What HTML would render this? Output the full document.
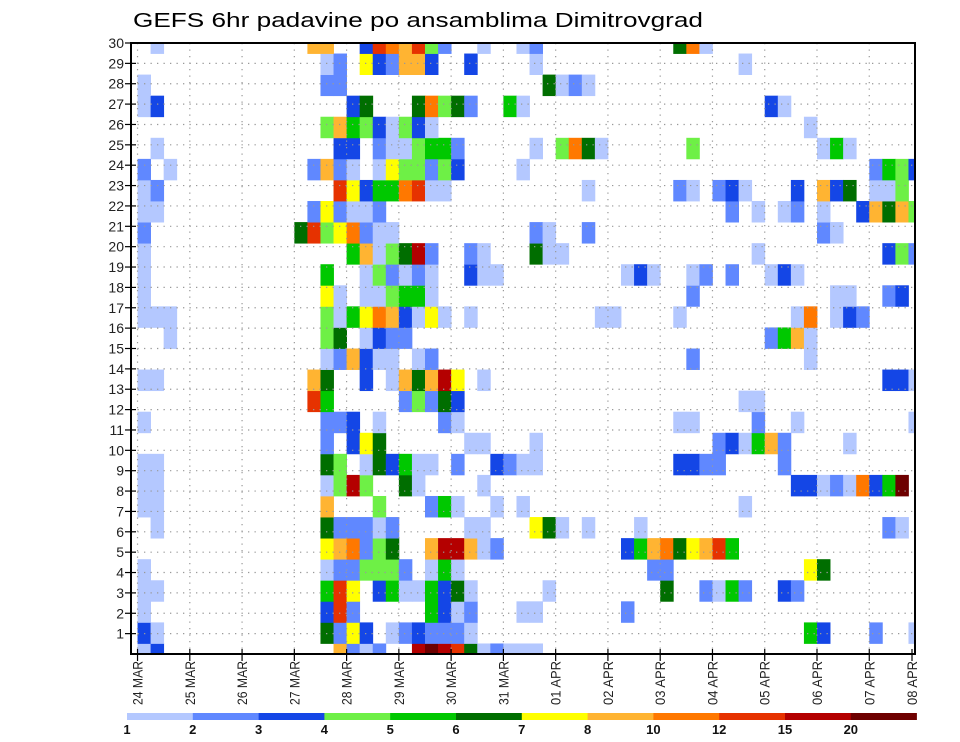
<!DOCTYPE html>
<html><head><meta charset="utf-8">
<style>
html,body{margin:0;padding:0;background:#fff;}
svg{display:block;font-family:"Liberation Sans",sans-serif;}
</style></head>
<body>
<svg id="chart" width="960" height="742" viewBox="0 0 960 742" xmlns="http://www.w3.org/2000/svg">
<rect x="0" y="0" width="960" height="742" fill="#fff"/>
<text x="133" y="27" font-size="20" textLength="570" lengthAdjust="spacingAndGlyphs" fill="#000">GEFS 6hr padavine po ansamblima Dimitrovgrad</text>
<g id="cells"></g>
<g id="grid"></g>
<g id="yaxis"></g>
<g id="xaxis"></g>
<rect x="131" y="43" width="784" height="611" fill="none" stroke="#000" stroke-width="2"/>
<g id="legend"></g>
</svg>
<script>
// ---- data ----
const dayLabels = ["24 MAR","25 MAR","26 MAR","27 MAR","28 MAR","29 MAR","30 MAR","31 MAR","01 APR","02 APR","03 APR","04 APR","05 APR","06 APR","07 APR","08 APR"];
const memberTicks = [1,2,3,4,5,6,7,8,9,10,11,12,13,14,15,16,17,18,19,20,21,22,23,24,25,26,27,28,29,30];
const levels = [1,2,3,4,5,6,7,8,10,12,15,20];
const legendLabels = ["1","2","3","4","5","6","7","8","10","12","15","20"];
const colors = ["#b4c8ff","#6088ff","#1446e6","#6ef046","#00c800","#006e00","#ffff00","#ffb432","#ff7800","#e63200","#b40000","#6e0000"];
// member rows: "column:levelCode" (code 1..c = colour class)
const m30 = "2:1 14:8 15:8 18:3 19:a 20:9 21:8 22:a 23:4 24:2 27:1 30:1 31:2 42:6 43:9 44:1";
const m29 = "15:1 16:2 18:7 19:3 20:2 21:8 22:8 23:3 26:3 31:1 47:1";
const m28 = "1:1 15:2 16:2 32:6 33:1 34:2 35:1";
const m27 = "1:1 2:3 17:3 18:6 22:6 23:9 24:4 25:6 26:2 29:5 30:1 49:3 50:1";
const m26 = "15:4 16:8 17:5 18:4 19:3 20:1 21:4 22:3 23:1 52:1";
const m25 = "2:1 16:3 17:3 19:2 20:1 21:1 22:4 23:5 24:5 25:2 31:1 33:4 34:9 35:6 36:1 43:4 53:1 54:5 55:1";
const m24 = "1:2 3:1 14:2 15:8 16:2 17:1 19:1 20:7 21:4 22:4 23:2 24:4 25:3 30:1 57:2 58:5 59:4 60:3";
const m23 = "1:1 2:2 16:a 17:7 18:3 19:5 20:5 21:9 22:a 23:1 24:1 35:1 42:2 43:1 45:2 46:3 47:1 51:3 53:8 54:3 55:6 57:1 58:1 59:4";
const m22 = "1:1 2:1 14:2 15:7 16:2 17:1 18:1 19:2 46:2 48:1 50:1 51:2 53:1 56:3 57:8 58:6 59:8 60:4";
const m21 = "1:2 13:6 14:a 15:4 16:7 17:9 18:2 19:1 20:1 31:2 32:1 35:2 53:2 54:1";
const m20 = "1:1 17:5 18:8 19:1 20:4 21:6 22:b 23:2 26:2 27:1 31:6 32:1 33:1 48:1 58:3 59:4 60:2";
const m19 = "1:1 15:5 18:1 19:4 20:2 21:1 22:2 23:1 26:3 27:1 28:1 38:1 39:3 40:1 43:1 44:2 46:2 49:1 50:3 51:1";
const m18 = "1:1 15:7 16:1 18:1 19:1 20:4 21:5 22:5 23:1 43:2 54:1 55:1 58:2 59:3";
const m17 = "1:1 2:1 3:1 15:4 16:1 17:5 18:7 19:9 20:8 21:3 22:1 23:7 24:1 26:1 36:1 37:1 42:1 51:1 52:9 54:1 55:3 56:2";
const m16 = "3:1 15:4 16:6 18:1 19:3 20:2 21:2 49:2 50:5 51:8 52:1";
const m15 = "15:1 16:2 17:8 18:3 19:1 20:1 22:1 23:2 43:2 52:1";
const m14 = "1:1 2:1 14:8 15:6 18:3 20:1 21:8 22:6 23:8 24:b 25:7 27:1 58:3 59:3 60:1";
const m13 = "14:a 15:5 21:2 22:4 23:2 24:6 25:3 47:1 48:1";
const m12 = "1:1 15:2 16:2 17:3 19:1 24:2 25:1 42:1 43:1 48:2 51:1 60:1";
const m11 = "15:2 17:3 18:7 19:6 26:1 27:1 31:1 45:2 46:3 47:1 48:5 49:8 50:2 55:1";
const m10 = "1:1 2:1 15:6 16:4 18:1 19:6 20:3 21:5 22:1 23:1 25:2 28:3 29:2 30:1 31:1 42:3 43:3 44:2 45:2 50:2";
const m9 = "1:1 2:1 15:1 16:4 17:b 18:4 21:6 22:1 27:1 51:3 52:3 53:1 54:2 55:1 56:9 57:3 58:5 59:c";
const m8 = "1:1 2:1 15:8 19:4 23:2 24:5 25:1 28:1 30:1 47:1";
const m7 = "2:1 15:6 16:2 17:2 18:2 19:1 20:2 26:1 27:1 31:7 32:6 33:1 35:1 39:1 58:2 59:1";
const m6 = "15:7 16:8 17:9 18:2 19:4 20:6 23:8 24:b 25:b 26:8 27:1 28:2 38:3 39:5 40:8 41:9 42:6 43:7 44:8 45:a 46:5";
const m5 = "1:1 15:1 16:2 17:2 18:4 19:4 20:4 21:2 23:1 24:5 25:1 40:2 41:2 52:7 53:6";
const m4 = "1:1 2:1 15:5 16:a 17:7 19:3 20:5 21:1 22:1 23:5 24:3 25:6 26:1 32:1 41:6 44:2 45:1 46:5 47:2 50:3 51:2";
const m3 = "1:1 15:3 16:a 17:2 23:5 24:3 25:1 26:2 30:1 31:1 38:2";
const m2 = "1:3 2:1 15:6 16:2 17:7 18:3 20:1 21:2 22:3 23:2 24:2 25:2 26:1 52:5 53:3 57:2 60:1";
const m1 = "1:1 2:3 16:8 17:2 18:1 19:2 22:b 23:c 24:b 25:a 26:6 27:1 28:2 29:1 30:1 31:1";
const memberRows = [m1,m2,m3,m4,m5,m6,m7,m8,m9,m10,m11,m12,m13,m14,m15,m16,m17,m18,m19,m20,m21,m22,m23,m24,m25,m26,m27,m28,m29,m30];

// ---- layout ----
const NS = "http://www.w3.org/2000/svg";
const L = 131, R = 915, T = 43, B = 654;
const NCOL = 61;
const step = (R - L) / (NCOL - 1);
const rowH = (B - T) / 29;
function xCol(j){ return L + j * step; }
function yMember(m){ return T + (30 - m) * rowH; }
function yTick(v){ return B - v * (B - T) / 30; }
function xDay(d){ return L + (0.5 + 4 * d) * step; }
function colorFor(v){
  let idx = -1;
  for (let i = 0; i < levels.length; i++) if (v >= levels[i]) idx = i;
  return idx < 0 ? null : colors[idx];
}
function codeToValue(c){
  const k = parseInt(c, 16);
  return k < levels.length ? (levels[k-1] + levels[k]) / 2 : levels[levels.length-1] + 5;
}
function mk(tag, attrs, parent){
  const e = document.createElementNS(NS, tag);
  for (const k in attrs) e.setAttribute(k, attrs[k]);
  parent.appendChild(e);
  return e;
}

// cells
const cellsG = document.getElementById("cells");
memberRows.forEach((rowStr, mi) => {
  const m = mi + 1;
  rowStr.split(" ").forEach(p => {
    if (!p) return;
    const [js, code] = p.split(":");
    const j = +js;
    const val = codeToValue(code);
    const col = colorFor(val);
    if (!col) return;
    let x0 = xCol(j) - step/2, x1 = xCol(j) + step/2;
    let y0 = yMember(m) - rowH/2, y1 = yMember(m) + rowH/2;
    x0 = Math.max(x0, L); x1 = Math.min(x1, R);
    y0 = Math.max(y0, T); y1 = Math.min(y1, B);
    const r = mk("rect", {x:x0.toFixed(2), y:y0.toFixed(2), width:(x1-x0+0.4).toFixed(2), height:(y1-y0+0.4).toFixed(2), fill:col}, cellsG);
    
    
  });
});

// grid
const gridG = document.getElementById("grid");
memberTicks.forEach(v => {
  if (v >= 30) return;
  const y = yTick(v);
  const l = mk("line", {x1:L, x2:R, y1:y, y2:y, stroke:"#999", "stroke-width":1.2, "stroke-dasharray":"1.3,5.2"}, gridG);
  
  
});
dayLabels.forEach((d, i) => {
  const x = xDay(i);
  if (x >= R - 1) return;
  const l = mk("line", {x1:x, x2:x, y1:T, y2:B, stroke:"#999", "stroke-width":1.2, "stroke-dasharray":"1.3,5.2"}, gridG);
  
  
});

// y axis
const yG = document.getElementById("yaxis");
memberTicks.forEach(v => {
  const y = yTick(v);
  const tk = mk("line", {x1:L-6, x2:L+5, y1:y, y2:y, stroke:"#000", "stroke-width":1.2}, yG);
  
  
  const t = mk("text", {x:L-7, y:y+5, "font-size":14, "text-anchor":"end", fill:"#222"}, yG);
  t.textContent = String(v);
  
  
});

// x axis
const xG = document.getElementById("xaxis");
dayLabels.forEach((d, i) => {
  let x = xDay(i);
  if (x > R) x = 912;
  const tk = mk("line", {x1:x, x2:x, y1:B-5, y2:B+7, stroke:"#000", "stroke-width":1.2}, xG);
  
  
  const t = mk("text", {x:0, y:0, "font-size":14, "text-anchor":"end", fill:"#222", transform:"translate(" + (x+5) + "," + (B+7) + ") rotate(-90)", textLength:44, lengthAdjust:"spacingAndGlyphs"}, xG);
  t.textContent = d;
  
  
});

// legend
const lgG = document.getElementById("legend");
const lgX0 = 127, lgW = 65.8;
colors.forEach((c, i) => {
  const r = mk("rect", {x:lgX0 + i*lgW, y:713, width:lgW+0.3, height:7, fill:c}, lgG);
  
  
});
legendLabels.forEach((s, i) => {
  const t = mk("text", {x:lgX0 + i*lgW, y:734, "font-size":13, "font-weight":"bold", "text-anchor":"middle", fill:"#111"}, lgG);
  t.textContent = s;
  
  
});
</script>
</body></html>
